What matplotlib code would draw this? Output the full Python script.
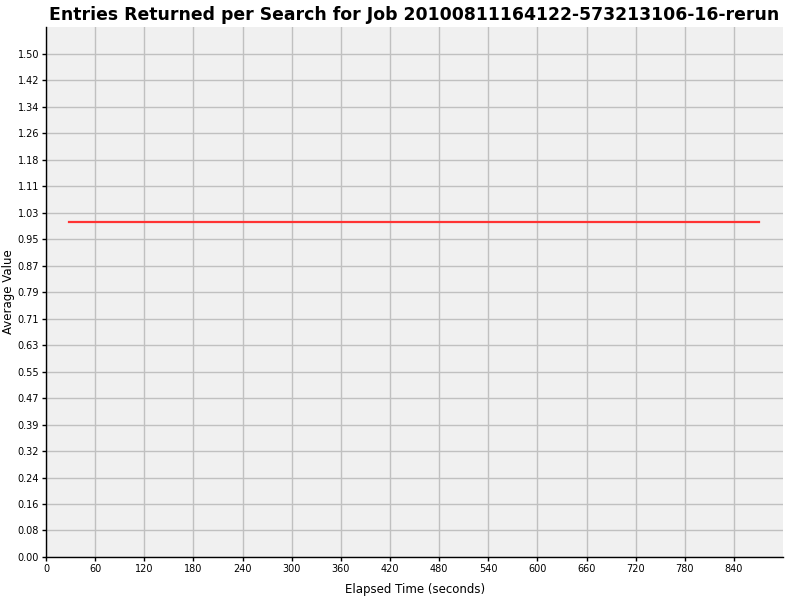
import matplotlib
matplotlib.use('Agg')
import matplotlib.pyplot as plt
import numpy as np

# Data
elapsed = [28, 871]
avg_value = [1.0, 1.0]

x_ticks = [0, 60, 120, 180, 240, 300, 360, 420, 480, 540, 600, 660, 720, 780, 840]
y_tick_labels = ['0.00', '0.08', '0.16', '0.24', '0.32', '0.39', '0.47', '0.55', '0.63', '0.71',
                 '0.79', '0.87', '0.95', '1.03', '1.11', '1.18', '1.26', '1.34', '1.42', '1.50']
y_ticks = np.linspace(0, 1.5, len(y_tick_labels))

fig = plt.figure(figsize=(8, 6), dpi=100)
ax = fig.add_axes([0.0575, 0.0717, 0.9215, 0.8833])
ax.set_facecolor('#f0f0f0')

ax.plot(elapsed, avg_value, color='#ff3333', linewidth=1.6)

ax.set_xlim(0, 900)
ax.set_ylim(0, 1.58)
ax.set_xticks(x_ticks)
ax.set_yticks(y_ticks)
ax.set_yticklabels(y_tick_labels)
ax.tick_params(labelsize=7, length=3, width=1, direction='out', color='black', pad=2)
ax.grid(True, color='#c0c0c0', linewidth=1)
ax.set_axisbelow(True)

for s in ['top', 'right']:
    ax.spines[s].set_visible(False)
for s in ['left', 'bottom']:
    ax.spines[s].set_color('black')
    ax.spines[s].set_linewidth(1)

ax.set_xlabel('Elapsed Time (seconds)', fontsize=8.5)
ax.set_ylabel('Average Value', fontsize=8.5)
ax.xaxis.set_label_coords(0.5, -0.05)
ax.yaxis.set_label_coords(-0.042, 0.5)
ax.set_title('Entries Returned per Search for Job 20100811164122-573213106-16-rerun',
             fontsize=12.4, fontweight='bold', pad=5)

fig.savefig('out.png', dpi=100)
